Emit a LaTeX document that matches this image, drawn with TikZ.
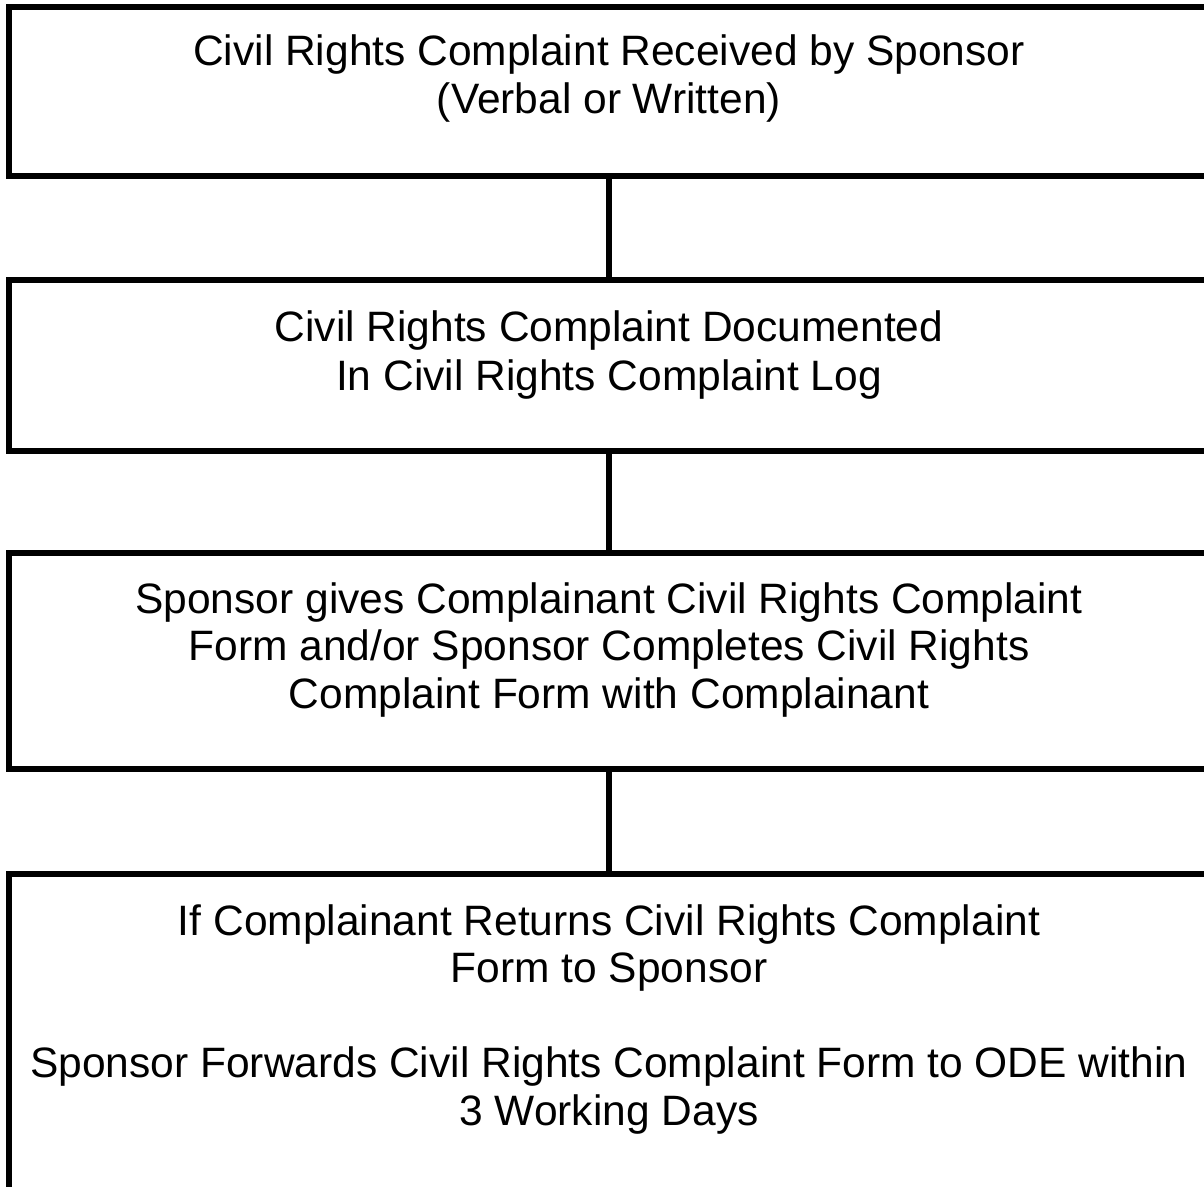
\documentclass[tikz,border=0pt]{standalone}
\usepackage{fontspec}
\setmainfont{Liberation Sans}
\begin{document}
\begin{tikzpicture}[x=1pt,y=-1pt,
  stepbox/.style={draw=black,line width=6pt,rectangle,minimum width=1200pt,inner sep=0pt},
  boxtext/.style={anchor=north,inner sep=0pt,align=center,font=\fontsize{42.5}{47.5}\selectfont},
  link/.style={draw=black,line width=6pt}]
\useasboundingbox (0,0) rectangle (1204,1186);
\clip (0,0) rectangle (1204,1186);
\node[stepbox,minimum height=169pt] (b1) at (609,91.5) {};
\node[stepbox,minimum height=171pt] (b2) at (609,365.5) {};
\node[stepbox,minimum height=216pt] (b3) at (609,661) {};
\node[stepbox,minimum height=386pt] (b4) at (609,1067) {};
\node[boxtext] (t1) at (609,35) {Civil Rights Complaint Received by Sponsor\\(Verbal or Written)};
\node[boxtext] (t2) at (609,310) {Civil Rights Complaint Documented\\[2pt]In Civil Rights Complaint Log};
\node[boxtext] (t3) at (609,582) {Sponsor gives Complainant Civil Rights Complaint\\Form and/or Sponsor Completes Civil Rights\\Complaint Form with Complainant};
\node[boxtext] (t4) at (609,904) {If Complainant Returns Civil Rights Complaint\\Form to Sponsor\\[47.5pt]Sponsor Forwards Civil Rights Complaint Form to ODE within\\3 Working Days};
\draw[link] (b1.south) -- (b2.north);
\draw[link] (b2.south) -- (b3.north);
\draw[link] (b3.south) -- (b4.north);
\end{tikzpicture}
\end{document}
